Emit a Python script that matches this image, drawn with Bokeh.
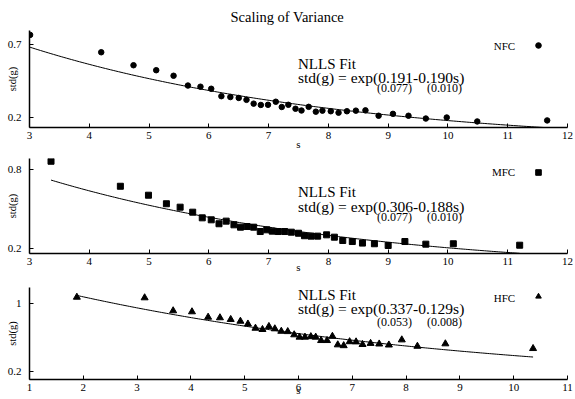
import numpy as np
from bokeh.plotting import figure
from bokeh.models import Label, Legend, LegendItem, FixedTicker, Range1d
from bokeh.layouts import column
from bokeh.embed import file_html
from bokeh.resources import INLINE
from bokeh.core.properties import value

FONT = "Liberation Serif"

title_text = "Scaling of Variance"

# ---- data ----
nfc_s = [3.01, 4.20, 4.74, 5.12, 5.41, 5.65, 5.86, 6.04, 6.21, 6.36, 6.50, 6.63,
         6.75, 6.87, 6.99, 7.12, 7.22, 7.33, 7.45, 7.55, 7.67, 7.79, 7.90, 8.04,
         8.17, 8.31, 8.46, 8.62, 8.84, 9.08, 9.34, 9.63, 9.98, 10.49, 11.66]
nfc_g = [0.768, 0.649, 0.560, 0.526, 0.488, 0.421, 0.413, 0.399, 0.348, 0.342, 0.336, 0.323,
         0.297, 0.288, 0.289, 0.310, 0.274, 0.289, 0.262, 0.250, 0.275, 0.242, 0.249, 0.245,
         0.235, 0.245, 0.249, 0.251, 0.214, 0.227, 0.214, 0.195, 0.202, 0.175, 0.182]

mfc_s = [3.36, 4.52, 4.99, 5.29, 5.52, 5.73, 5.89, 6.04, 6.17, 6.29, 6.42, 6.53,
         6.64, 6.75, 6.86, 6.97, 7.06, 7.16, 7.27, 7.38, 7.50, 7.60, 7.71, 7.82,
         7.97, 8.10, 8.24, 8.40, 8.57, 8.77, 9.00, 9.28, 9.63, 10.09, 11.20]
mfc_g = [0.865, 0.675, 0.607, 0.542, 0.516, 0.478, 0.435, 0.420, 0.390, 0.410, 0.382, 0.364,
         0.369, 0.364, 0.331, 0.344, 0.334, 0.331, 0.331, 0.326, 0.318, 0.299, 0.296, 0.296,
         0.306, 0.288, 0.263, 0.255, 0.243, 0.238, 0.225, 0.255, 0.235, 0.238, 0.227]

hfc_s = [1.88, 3.14, 3.67, 4.02, 4.32, 4.54, 4.74, 4.92, 5.06, 5.20, 5.33, 5.45,
         5.56, 5.68, 5.80, 5.92, 6.02, 6.12, 6.23, 6.32, 6.42, 6.53, 6.63, 6.73,
         6.84, 6.95, 7.07, 7.19, 7.34, 7.50, 7.68, 7.92, 8.21, 8.73, 10.36]
hfc_g = [1.078, 1.071, 0.917, 0.905, 0.841, 0.834, 0.814, 0.793, 0.760, 0.710, 0.695, 0.731,
         0.703, 0.674, 0.670, 0.632, 0.604, 0.604, 0.610, 0.604, 0.564, 0.564, 0.614, 0.513,
         0.503, 0.550, 0.548, 0.517, 0.530, 0.523, 0.511, 0.572, 0.496, 0.525, 0.469]

series_names = ["NFC", "MFC", "HFC"]
fit_a = [0.191, 0.306, 0.337]
fit_b = [0.190, 0.188, 0.129]
se_a = ["(0.077)", "(0.077)", "(0.053)"]
se_b = ["(0.010)", "(0.010)", "(0.008)"]

x_ticks = [[3, 4, 5, 6, 7, 8, 9, 10, 11, 12],
           [3, 4, 5, 6, 7, 8, 9, 10, 11, 12],
           [1, 2, 3, 4, 5, 6, 7, 8, 9, 10, 11]]
y_ticks = [[0.2, 0.7], [0.2, 0.8], [0.2, 1.0]]
y_tick_labels = [["0.2", "0.7"], ["0.2", "0.8"], ["0.2", "1"]]
y_label = "std(g)"
x_label = "s"
fit_title = "NLLS Fit"

# ---- layout / style settings ----
panels = [
    dict(s=nfc_s, g=nfc_g, marker="circle", msize=5.5,
         xr=(3, 12), yr=(0.1336, 0.798), h=155, top=30, bottom=28,
         nlls_y=63.7, eq_y=50.3, se_y=39.7, xlab_sd=-4,
         leg_y=82, key_y=82),
    dict(s=mfc_s, g=mfc_g, marker="square", msize=6,
         xr=(3, 12), yr=(0.164, 0.886), h=126, top=3, bottom=28,
         nlls_y=61.3, eq_y=47, se_y=37, xlab_sd=-7,
         leg_y=81.3, key_y=81.3),
    dict(s=hfc_s, g=hfc_g, marker="triangle", msize=7,
         xr=(1, 11), yr=(0.1015, 1.193), h=118, top=6, bottom=20,
         nlls_y=84.7, eq_y=70.7, se_y=57.3, xlab_sd=-10,
         leg_y=81.7, key_y=83),
]

W = 575
figs = []
for i, pc in enumerate(panels):
    p = figure(width=W, height=pc["h"], output_backend="svg", toolbar_location=None,
               x_range=Range1d(*pc["xr"]), y_range=Range1d(*pc["yr"]),
               min_border_left=29, min_border_right=8,
               min_border_top=pc["top"], min_border_bottom=pc["bottom"])
    p.outline_line_color = None
    p.xgrid.visible = False
    p.ygrid.visible = False
    p.background_fill_color = "white"

    for ax in (p.xaxis[0], p.yaxis[0]):
        ax.axis_line_width = 1.5
        ax.axis_line_color = "black"
        ax.major_tick_in = 4
        ax.major_tick_out = 0
        ax.minor_tick_in = 0
        ax.minor_tick_out = 0
        ax.major_tick_line_color = "black"
        ax.major_tick_line_width = 1
        ax.major_label_text_font = FONT
        ax.major_label_text_font_size = "11px"
        ax.major_label_text_color = "black"
        ax.axis_label_text_font = FONT
        ax.axis_label_text_font_style = "normal"
        ax.axis_label_text_color = "black"
    p.xaxis.ticker = FixedTicker(ticks=x_ticks[i])
    p.xaxis.major_label_standoff = 4
    p.xaxis.axis_label = x_label
    p.xaxis.axis_label_text_font_size = "11px"
    p.xaxis.axis_label_standoff = pc["xlab_sd"]
    p.yaxis.ticker = FixedTicker(ticks=y_ticks[i])
    p.yaxis.major_label_overrides = dict(zip(y_ticks[i], y_tick_labels[i]))
    p.yaxis.major_label_standoff = 8
    p.yaxis.axis_label = y_label
    p.yaxis.axis_label_text_font_size = "10.5px"
    p.yaxis.axis_label_standoff = -13

    if i == 0:
        p.title.text = title_text
        p.title.align = "left"
        p.title.offset = 201
        p.title.standoff = 12
        p.title.text_font = FONT
        p.title.text_font_size = "14.5px"
        p.title.text_font_style = "normal"
        p.title.text_color = "black"

    s = np.array(pc["s"])
    r = p.scatter(pc["s"], pc["g"], marker=pc["marker"], size=pc["msize"],
                  color="black")
    sl = np.linspace(s.min(), s.max(), 200)
    p.line(sl, np.exp(fit_a[i] - fit_b[i] * sl), color="black", line_width=1)

    def lab(x, y, text, size, align="left", baseline="alphabetic"):
        p.add_layout(Label(x=x, y=y, x_units="screen", y_units="screen", text=text,
                           text_font=FONT, text_font_size=size, text_align=align,
                           text_baseline=baseline, text_color="black"))

    lab(268.5, pc["nlls_y"], fit_title, "15px")
    lab(268.5, pc["eq_y"], f"std(g) = exp({fit_a[i]:.3f}-{fit_b[i]:.3f}s)", "15.5px")
    lab(347.5, pc["se_y"], se_a[i], "12px")
    lab(397.5, pc["se_y"], se_b[i], "12px")
    lab(485.7, pc["leg_y"], series_names[i], "11px", align="right", baseline="middle")

    leg = Legend(items=[LegendItem(label=value(""), renderers=[r])],
                 location=(508.5 - 7, pc["key_y"] - 7),
                 padding=0, margin=0, spacing=0, label_standoff=0,
                 glyph_width=14, glyph_height=14, label_width=0, label_height=14,
                 border_line_color=None, background_fill_alpha=0)
    p.add_layout(leg)
    figs.append(p)

layout = column(*figs, spacing=0)
open("out.html", "w").write(file_html(layout, INLINE))
